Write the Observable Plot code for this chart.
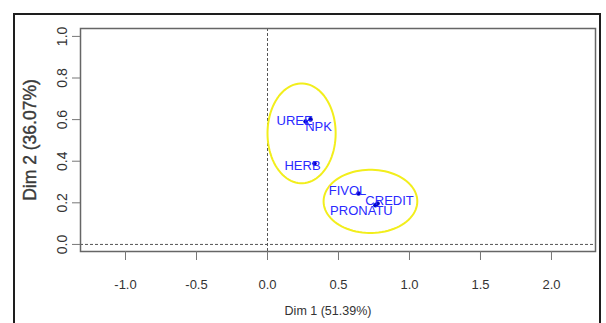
<!DOCTYPE html>
<html>
<head>
<meta charset="utf-8">
<script src="https://cdn.jsdelivr.net/npm/d3@7"></script>
<script src="https://cdn.jsdelivr.net/npm/@observablehq/plot@0.6"></script>
<style>
  html, body { margin: 0; padding: 0; background: #fff; }
  #wrap { position: relative; width: 606px; height: 323px; overflow: hidden; }
  #outer { position: absolute; left: 13px; top: 13px; width: 588px; height: 340px; border: 2px solid #1e1e1e; box-sizing: border-box; }
  #chart { position: absolute; left: 0; top: 0; }
</style>
</head>
<body>
<div id="wrap"><div id="outer"></div><div id="chart"></div></div>
<script>
// Variables (factor map)
const names = ["UREE", "NPK", "HERB", "FIVOL", "CREDIT", "PRONATU"];
const dim1  = [0.268, 0.303, 0.331, 0.641, 0.775, 0.760];
const dim2  = [0.591, 0.601, 0.389, 0.245, 0.197, 0.188];

// Cluster ellipses: centre and radii in axis units
const ellCx = [0.24, 0.725];
const ellCy = [0.534, 0.207];
const ellRx = [0.24, 0.33];
const ellRy = [0.24, 0.152];

const xTicks = [-1.0, -0.5, 0.0, 0.5, 1.0, 1.5, 2.0];
const yTicks = [0.0, 0.2, 0.4, 0.6, 0.8, 1.0];
const xTitle = "Dim 1 (51.39%)";
const yTitle = "Dim 2 (36.07%)";

// label nudges (pixels) so texts sit as in the original
const labelOffset = {
  UREE: [-11, -1], NPK: [8, 7], HERB: [-12, 2],
  FIVOL: [-11, -3], CREDIT: [12, -3], PRONATU: [-14, 6]
};

const pts = names.map((n, i) => ({name: n, x: dim1[i], y: dim2[i]}));
const ellipses = ellCx.flatMap((cx, k) =>
  d3.range(0, 360, 4).map(a => ({
    k,
    x: cx + ellRx[k] * Math.cos(a * Math.PI / 180),
    y: ellCy[k] + ellRy[k] * Math.sin(a * Math.PI / 180)
  }))
);

const font = "'Liberation Sans', Arial, sans-serif";
const fmt = d => d.toFixed(1);

const chart = Plot.plot({
  width: 606,
  height: 323,
  marginLeft: 80,
  marginRight: 11,
  marginTop: 28,
  marginBottom: 72,
  style: {background: "transparent", fontFamily: font, overflow: "visible"},
  x: {domain: [-1.317, 2.31], axis: null},
  y: {domain: [-0.034, 1.038], axis: null},
  marks: [
    Plot.ruleY([0], {stroke: "#555", strokeDasharray: "3,2", strokeWidth: 1}),
    Plot.ruleX([0], {stroke: "#555", strokeDasharray: "3,2", strokeWidth: 1}),
    Plot.line(ellipses, {x: "x", y: "y", z: "k", curve: "linear-closed", stroke: "#f2ee1c", strokeWidth: 2}),
    Plot.dot(pts, {x: "x", y: "y", r: 2.3, fill: "#0000c8", stroke: null}),
    ...names.map(n => Plot.text(pts.filter(p => p.name === n), {
      x: "x", y: "y", text: "name",
      dx: labelOffset[n][0], dy: labelOffset[n][1],
      fill: "#2a2aff", fontSize: 13, fontFamily: font
    })),
    Plot.frame({stroke: "#666", strokeWidth: 1.5}),
    Plot.axisX({ticks: xTicks, tickSize: 9, tickPadding: 19, tickFormat: fmt, label: null,
      stroke: "#777", fill: "#333", fontSize: 13, fontFamily: font}),
    Plot.axisY({ticks: yTicks, tickSize: 8, tickFormat: () => "", label: null, stroke: "#777"}),
    Plot.text(yTicks, {y: d => d, frameAnchor: "left", dx: -18, rotate: -90, text: fmt,
      textAnchor: "middle", lineAnchor: "middle", fill: "#333", fontSize: 14, fontFamily: font}),
    Plot.text([xTitle], {frameAnchor: "bottom", dy: 59, dx: -10, text: d => d,
      textAnchor: "middle", lineAnchor: "middle", fill: "#333", fontSize: 12.5, fontFamily: font}),
    Plot.text([yTitle], {frameAnchor: "left", dx: -50, rotate: -90, text: d => d,
      textAnchor: "middle", lineAnchor: "middle", fill: "#3a3a3a", fontSize: 17.5, fontWeight: "normal",
      stroke: "#3a3a3a", strokeWidth: 0.4, fontFamily: font})
  ]
});
document.getElementById("chart").appendChild(chart);
</script>
</body>
</html>
